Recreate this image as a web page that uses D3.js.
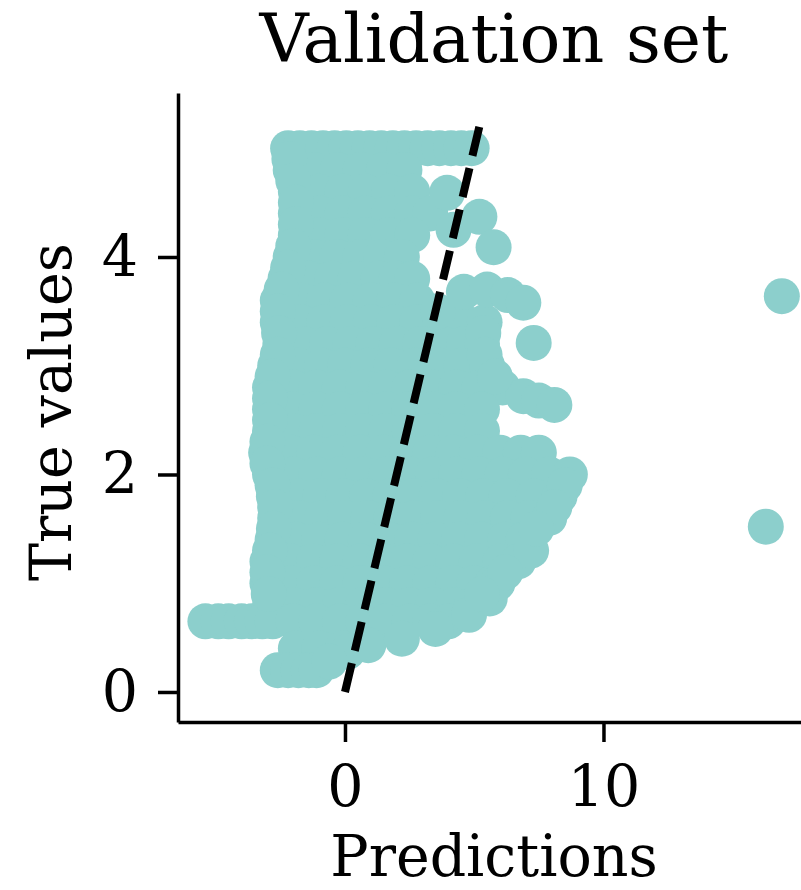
<!DOCTYPE html>
<html>
<head>
<meta charset="utf-8">
<script src="https://cdn.jsdelivr.net/npm/d3@7"></script>
<style>
  body { margin: 0; background: #fff; }
  svg { display: block; font-family: "DejaVu Serif", serif; }
</style>
</head>
<body>
<svg id="chart"></svg>
<script>
// true value of each row of the dense cloud
const rowTrue = [5.0, 4.8, 4.6, 4.4, 4.2, 4.0, 3.8, 3.6, 3.4, 3.2, 3.0, 2.8, 2.6,
                 2.4, 2.2, 2.0, 1.8, 1.6, 1.4, 1.2, 1.0, 0.8, 0.65, 0.4, 0.2];
// predictions found on each of those rows
const rowPred = [
    [-2.2, -1.75, -1.3, -0.85, -0.4, 0.05, 0.5, 0.95, 1.4, 1.85, 2.3, 2.75, 3.2, 3.65, 4.1, 4.5, 4.9],
    [-2.1, -1.2, -0.3, 0.6, 1.5, 2.3],
    [-1.9, -1.0, -0.1, 0.8, 1.7, 2.6],
    [-1.9, -1.0, -0.1, 0.8, 1.7, 2.6, 3.3],
    [-1.9, -1.0, -0.1, 0.8, 1.7, 2.6],
    [-2.1, -1.2, -0.3, 0.6, 1.4, 2.2],
    [-2.3, -1.4, -0.5, 0.4, 1.3, 2.0, 2.6],
    [-2.6, -1.7, -0.8, 0.1, 1.0, 1.9, 2.8],
    [-2.6, -1.7, -0.8, 0.1, 1.0, 1.9, 2.8, 3.7, 4.6, 5.4],
    [-2.5, -1.6, -0.7, 0.2, 1.1, 2.0, 2.9, 3.8, 4.6, 5.3],
    [-2.7, -1.8, -0.9, 0.0, 0.9, 1.8, 2.7, 3.6, 4.5, 5.5],
    [-2.9, -2.0, -1.1, -0.2, 0.7, 1.6, 2.5, 3.4, 4.3, 5.2, 6.1],
    [-2.9, -2.0, -1.1, -0.2, 0.7, 1.6, 2.5, 3.4, 4.3, 5.3],
    [-2.9, -2.0, -1.1, -0.2, 0.7, 1.6, 2.5, 3.4, 4.3, 5.3],
    [-3.05, -2.1, -1.2, -0.3, 0.6, 1.5, 2.4, 3.3, 4.2, 5.1, 6.0, 6.8, 7.5],
    [-2.9, -2.0, -1.1, -0.2, 0.7, 1.6, 2.5, 3.4, 4.3, 5.2, 6.1, 7.0, 7.9, 8.7],
    [-2.75, -1.85, -0.95, -0.05, 0.85, 1.75, 2.65, 3.55, 4.45, 5.35, 6.25, 7.3, 8.3],
    [-2.7, -1.8, -0.9, 0.0, 0.9, 1.8, 2.7, 3.6, 4.5, 5.4, 6.3, 7.1, 7.9],
    [-2.8, -1.9, -1.0, -0.1, 0.8, 1.7, 2.6, 3.5, 4.4, 5.3, 6.2, 6.9],
    [-3.0, -2.1, -1.2, -0.3, 0.6, 1.5, 2.4, 3.3, 4.2, 5.1, 6.0, 6.7],
    [-3.0, -2.1, -1.2, -0.3, 0.6, 1.5, 2.4, 3.3, 4.2, 5.0, 5.7],
    [-2.9, -2.0, -1.1, -0.2, 0.7, 1.6, 2.5, 3.4, 4.2, 4.9],
    [-5.4, -4.9, -4.5, -4.0, -3.6, -3.2, -2.8, -2.0, -1.1, -0.2, 0.7, 1.6, 2.5, 3.3, 4.0],
    [-1.9, -1.0, -0.1],
    [-2.6, -2.2, -1.8, -1.4, -1.1]
];
// points along the left side of the cloud
const leftPred = [-2.15, -2.0, -1.9, -1.9, -2.0, -2.2, -2.45, -2.6, -2.55, -2.6, -2.8,
                  -2.9, -2.9, -3.0, -3.0, -2.8, -2.7, -2.75, -2.9, -3.0, -2.95];
const leftTrue = [4.9, 4.7, 4.5, 4.3, 4.1, 3.9, 3.7, 3.5, 3.3, 3.1, 2.9,
                  2.7, 2.5, 2.3, 2.1, 1.9, 1.7, 1.5, 1.3, 1.1, 0.9];
// single points on the ragged right and lower edge of the cloud
const edgePred = [3.95, 4.2, 5.2, 5.75, 3.6, 4.6, 5.5, 6.3, 6.9, 7.3, 6.9, 7.5, 8.1,
                  7.2, 0.1, -0.6, 0.9, 2.2, 3.5, 4.8, 5.6, 5.9,
                  5.35, 5.4, 5.8, 8.5, 8.1, 7.4, 6.2, 5.3];
const edgeTrue = [4.59, 4.25, 4.37, 4.09, 3.5, 3.68, 3.7, 3.65, 3.58, 3.21, 2.72, 2.68, 2.64,
                  1.3, 0.37, 0.28, 0.43, 0.49, 0.58, 0.71, 0.86, 1.0,
                  3.3, 3.1, 2.9, 1.9, 1.7, 1.5, 1.1, 0.9];
// far outliers
const outlierPred = [16.9, 16.28];
const outlierTrue = [3.64, 1.52];

const xTicks = [0, 10];
const yTicks = [0, 2, 4];
const diagonal = [0, 5.24];

const width = 801, height = 890;
const margin = { top: 93, right: -9, bottom: 168, left: 178 };
const pointColor = "#8ccfcc";

const svg = d3.select("#chart").attr("width", width).attr("height", height);

const x = d3.scaleLinear().domain([-6.46, 17.99]).range([margin.left, width - margin.right]);
const y = d3.scaleLinear().domain([-0.276, 5.508]).range([height - margin.bottom, margin.top]);

const points = [];
rowTrue.forEach((t, i) => rowPred[i].forEach(p => points.push({ pred: p, truth: t })));
leftPred.forEach((p, i) => points.push({ pred: p, truth: leftTrue[i] }));
edgePred.forEach((p, i) => points.push({ pred: p, truth: edgeTrue[i] }));
outlierPred.forEach((p, i) => points.push({ pred: p, truth: outlierTrue[i] }));

svg.append("g")
    .selectAll("circle")
    .data(points)
    .join("circle")
    .attr("cx", d => x(d.pred))
    .attr("cy", d => y(d.truth))
    .attr("r", 18)
    .attr("fill", pointColor);

svg.append("path")
    .datum(diagonal)
    .attr("d", d3.line().x(d => x(d)).y(d => y(d)))
    .attr("fill", "none")
    .attr("stroke", "#000")
    .attr("stroke-width", 8)
    .attr("stroke-dasharray", "29.6,12.8");

const xAxis = svg.append("g")
    .attr("transform", `translate(0, ${height - margin.bottom})`)
    .call(d3.axisBottom(x).tickValues(xTicks).tickFormat(d3.format("d"))
        .tickSize(20).tickSizeOuter(0).tickPadding(24));

const yAxis = svg.append("g")
    .attr("transform", `translate(${margin.left}, 0)`)
    .call(d3.axisLeft(y).tickValues(yTicks).tickFormat(d3.format("d"))
        .tickSize(20).tickSizeOuter(0).tickPadding(20));

[xAxis, yAxis].forEach(a => {
    a.select(".domain").attr("stroke", "#000").attr("stroke-width", 3.5);
    a.selectAll(".tick line").attr("stroke", "#000").attr("stroke-width", 3.5);
    a.selectAll(".tick text")
        .attr("fill", "#000")
        .style("font-family", "DejaVu Serif")
        .style("font-size", "57px");
});

svg.append("text")
    .attr("x", 494)
    .attr("y", 62)
    .attr("text-anchor", "middle")
    .style("font-size", "68px")
    .text("Validation set");

svg.append("text")
    .attr("x", 494)
    .attr("y", 876)
    .attr("text-anchor", "middle")
    .style("font-size", "57px")
    .text("Predictions");

svg.append("text")
    .attr("transform", "translate(71, 412) rotate(-90)")
    .attr("text-anchor", "middle")
    .style("font-size", "57px")
    .text("True values");
</script>
</body>
</html>
